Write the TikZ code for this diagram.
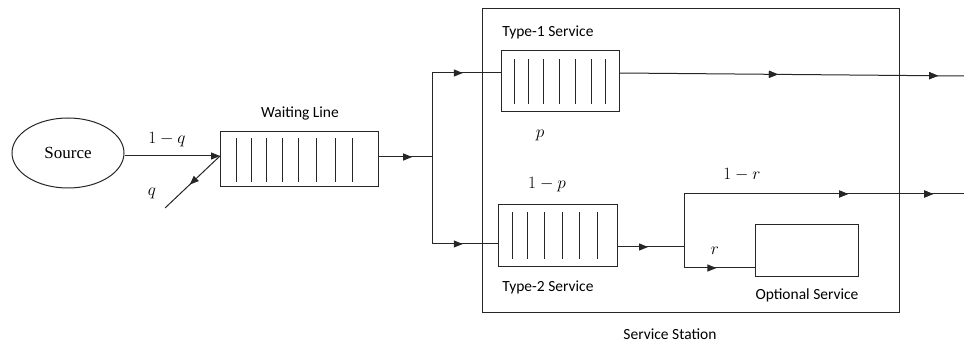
\documentclass[tikz,border=0pt]{standalone}
\usepackage{fontspec}
\setmainfont{Carlito}
\newfontfamily\srcfont{Liberation Serif}
\usetikzlibrary{arrows.meta,decorations.markings,shapes.geometric}
\tikzset{
  ln/.style={draw=black!85, line width=1pt},
  boxn/.style={ln, rectangle, inner sep=0pt},
  lbl/.style={font=\fontsize{15.5}{18}\selectfont, inner sep=0pt},
  mlbl/.style={font=\fontsize{16.5}{19}\selectfont, inner sep=0pt},
  tipa/.style={-{Triangle[length=9pt,width=7pt]}},
  marrow/.style={postaction={decorate},decoration={markings,
     mark=at position #1 with {\arrow{Triangle[length=9pt,width=7pt]}}}},
}
\begin{document}
\begin{tikzpicture}[x=1pt,y=-1pt]
\useasboundingbox (0,0) rectangle (964,344);
% nodes
\node[ln, ellipse, minimum width=112pt, minimum height=70pt, inner sep=0pt,
      font=\srcfont\fontsize{17}{20}\selectfont] (src) at (68,153) {Source};
\node[boxn, minimum width=158pt, minimum height=55pt] (wl) at (299,159.5) {};
\node[boxn, minimum width=118pt, minimum height=61pt] (t1) at (560,81.5) {};
\node[boxn, minimum width=119pt, minimum height=62pt] (t2) at (557.5,236) {};
\node[boxn, minimum width=103pt, minimum height=52pt] (opt) at (806.5,251) {};
\node[boxn, minimum width=417pt, minimum height=304pt] (st) at (690.5,161) {};
% queue bars
\foreach \x in {236,251,266,282,298,316,335,352} \draw[ln] (\x,138) -- (\x,182);
\foreach \x in {514,528,543,559,575,591,605} \draw[ln] (\x,59) -- (\x,104);
\foreach \x in {512,527,544,562,579,597} \draw[ln] (\x,212) -- (\x,259);
% coordinates
\coordinate (j0) at (220,156);
\coordinate (qend) at (165,208);
\coordinate (jx) at (432,157);
\coordinate (jt) at (432,73);
\coordinate (jb) at (432,244);
\coordinate (o1) at (964,76);
\coordinate (k) at (684,247);
\coordinate (kt) at (684,194);
\coordinate (kb) at (684,268);
\coordinate (o2) at (964,194);
% connectors
\draw[ln, tipa] (src.east |- j0) -- (j0);
\draw[ln, marrow=0.55] (j0) -- (qend);
\draw[ln, marrow=0.63] (wl.east |- jx) -- (jx);
\draw[ln] (jt) -- (jb);
\draw[ln, marrow=0.45] (jt) -- (t1.west |- jt);
\draw[ln, marrow=0.47] (jb) -- (t2.west |- jb);
\draw[ln, marrow=0.46, marrow=0.925] (t1.east |- jt) -- (o1);
\draw[ln, marrow=0.46] (t2.east |- k) -- (k);
\draw[ln] (kt) -- (kb);
\draw[ln, marrow=0.586, marrow=0.89] (kt) -- (o2);
\draw[ln, marrow=0.46] (kb) -- (opt.west |- kb);
% labels
\node[lbl] (lwl) at (300,113) {Waiting Line};
\node[mlbl] (l1q) at (167,140) {$1-q$};
\node[mlbl] (lq) at (152,193) {$q$};
\node[lbl] (lt1) at (548,32) {Type-1 Service};
\node[mlbl] (lp) at (540,135) {$p$};
\node[mlbl] (l1p) at (547,185) {$1-p$};
\node[lbl] (lt2) at (548,287) {Type-2 Service};
\node[mlbl] (l1r) at (742,175) {$1-r$};
\node[mlbl] (lr) at (715,251) {$r$};
\node[lbl] (lopt) at (807,295) {Optional Service};
\node[lbl] (lst) at (670,334) {Service Station};
\end{tikzpicture}
\end{document}
